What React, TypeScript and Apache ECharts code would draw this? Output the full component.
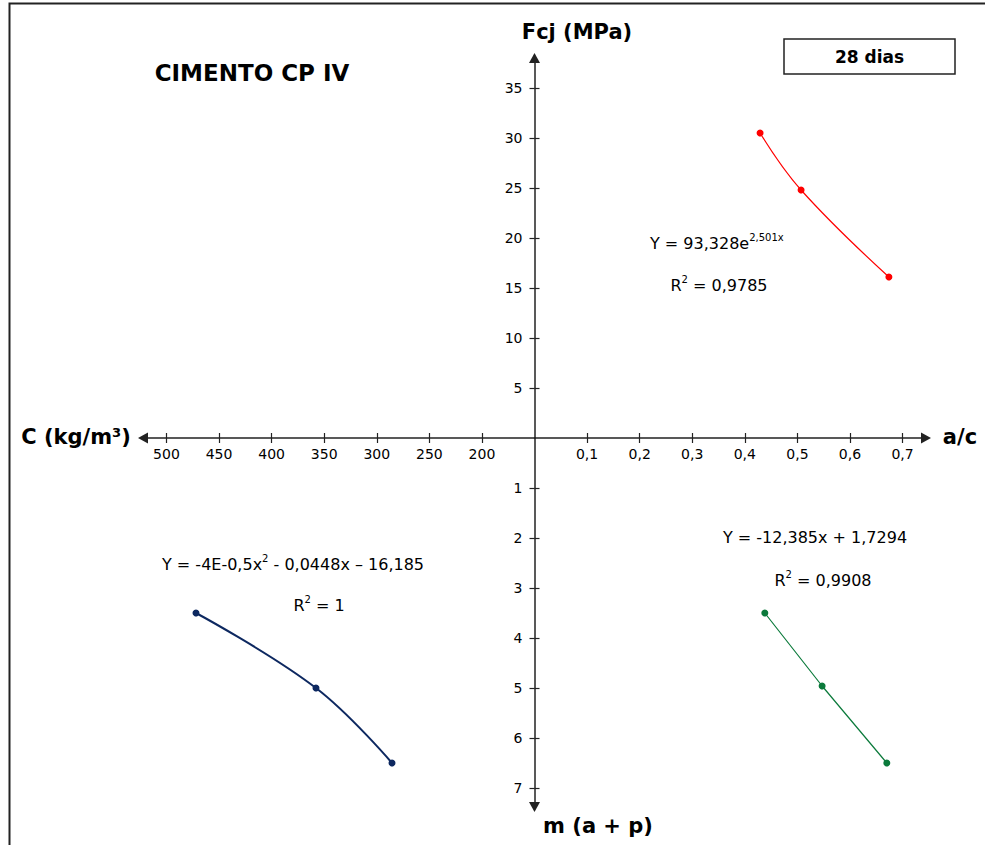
import React, { useEffect, useRef } from "react";
import * as echarts from "echarts";

// ---- data ----
const acTicks = [0.1, 0.2, 0.3, 0.4, 0.5, 0.6, 0.7];
const cTicks = [200, 250, 300, 350, 400, 450, 500];
const fcjTicks = [5, 10, 15, 20, 25, 30, 35];
const mTicks = [1, 2, 3, 4, 5, 6, 7];

const acRed = [0.429, 0.507, 0.674];
const fcjRed = [30.5, 24.8, 16.1];

const acGreen = [0.438, 0.547, 0.67];
const mGreen = [3.5, 4.96, 6.5];

const cBlue = [471.9, 357.8, 285.5];
const mBlue = [3.5, 5.0, 6.5];

const FONT = "DejaVu Sans";
const AXIS = "#222";

export default function App() {
  const ref = useRef<HTMLDivElement>(null);
  useEffect(() => {
    if (!ref.current) return;
    const chart = echarts.init(ref.current, undefined, { renderer: "svg" });
    const cx = 534.5;
    const cy = 438;
    const W = 391.5;
    const HU = 380;
    const HD = 369;
    const acMax = W / 525.8;
    const cMin = 150;
    const cMax = 150 + W / 1.0516;
    const fcjMax = HU / 10;
    const mMax = HD / 50;

    const lbl = { fontFamily: FONT, fontSize: 14, color: "#000" };
    const lineStyle = { color: AXIS, width: 1.5 };
    const tick = (vals: number[]) => ({
      show: true,
      length: 5,
      customValues: vals,
      lineStyle: { color: AXIS, width: 1.2 },
    });
    const noLabel = { show: false };

    const eqRich = {
      n: { fontFamily: FONT, fontSize: 16, color: "#000", lineHeight: 22 },
      s: { fontFamily: FONT, fontSize: 10, color: "#000", lineHeight: 12, verticalAlign: "top" },
    };
    const bold = (text: string, x: number, y: number, size: number) => ({
      type: "text",
      x,
      y,
      style: { text, fontFamily: FONT, fontWeight: "bold", fontSize: size, fill: "#000", align: "center", verticalAlign: "middle" },
    });
    const rich = (text: string, x: number, y: number, align = "center") => ({
      type: "text",
      x,
      y,
      style: { text, rich: eqRich, align, verticalAlign: "middle" },
    });

    chart.setOption({
      animation: false,
      backgroundColor: "#fff",
      grid: [
        { left: cx, top: cy - HU, width: W, height: HU },
        { left: cx - W, top: cy - HU, width: W, height: HU },
        { left: cx - W, top: cy, width: W, height: HD },
        { left: cx, top: cy, width: W, height: HD },
      ],
      xAxis: [
        {
          type: "value", gridIndex: 0, position: "bottom", min: 0, max: acMax,
          axisLine: { show: true, onZero: false, lineStyle, symbol: ["none", "triangle"], symbolSize: [11, 10] },
          axisTick: tick(acTicks),
          axisLabel: { ...lbl, margin: 9, customValues: acTicks, formatter: (v: number) => v.toFixed(1).replace(".", ",") },
          splitLine: { show: false },
        },
        {
          type: "value", gridIndex: 3, position: "top", min: 0, max: acMax,
          axisLine: { show: false, onZero: false },
          axisTick: tick(acTicks),
          axisLabel: noLabel,
          splitLine: { show: false },
        },
        {
          type: "value", gridIndex: 1, position: "bottom", min: cMin, max: cMax, inverse: true,
          axisLine: { show: true, onZero: false, lineStyle, symbol: ["triangle", "none"], symbolSize: [11, 10] },
          axisTick: tick(cTicks),
          axisLabel: { ...lbl, margin: 9, customValues: cTicks, formatter: (v: number) => String(v) },
          splitLine: { show: false },
        },
        {
          type: "value", gridIndex: 2, position: "top", min: cMin, max: cMax, inverse: true,
          axisLine: { show: false, onZero: false },
          axisTick: tick(cTicks),
          axisLabel: noLabel,
          splitLine: { show: false },
        },
      ],
      yAxis: [
        {
          type: "value", gridIndex: 0, position: "left", min: 0, max: fcjMax,
          axisLine: { show: true, onZero: false, lineStyle, symbol: ["none", "triangle"], symbolSize: [11, 10] },
          axisTick: tick(fcjTicks),
          axisLabel: { ...lbl, margin: 12, customValues: fcjTicks, formatter: (v: number) => String(v) },
          splitLine: { show: false },
        },
        {
          type: "value", gridIndex: 1, position: "right", min: 0, max: fcjMax,
          axisLine: { show: false, onZero: false },
          axisTick: tick(fcjTicks),
          axisLabel: noLabel,
          splitLine: { show: false },
        },
        {
          type: "value", gridIndex: 3, position: "left", min: 0, max: mMax, inverse: true,
          axisLine: { show: true, onZero: false, lineStyle, symbol: ["triangle", "none"], symbolSize: [11, 10] },
          axisTick: tick(mTicks),
          axisLabel: { ...lbl, margin: 12, customValues: mTicks, formatter: (v: number) => String(v) },
          splitLine: { show: false },
        },
        {
          type: "value", gridIndex: 2, position: "right", min: 0, max: mMax, inverse: true,
          axisLine: { show: false, onZero: false },
          axisTick: tick(mTicks),
          axisLabel: noLabel,
          splitLine: { show: false },
        },
      ],
      series: [
        {
          type: "line", xAxisIndex: 0, yAxisIndex: 0, smooth: 0.4,
          data: acRed.map((v, i) => [v, fcjRed[i]]),
          symbol: "circle", symbolSize: 7,
          itemStyle: { color: "#ff0000" }, lineStyle: { color: "#ff0000", width: 1.2 },
        },
        {
          type: "line", xAxisIndex: 1, yAxisIndex: 2,
          data: acGreen.map((v, i) => [v, mGreen[i]]),
          symbol: "circle", symbolSize: 7,
          itemStyle: { color: "#0b7a3b" }, lineStyle: { color: "#0b7a3b", width: 1.2 },
        },
        {
          type: "line", xAxisIndex: 3, yAxisIndex: 3, smooth: 0.4,
          data: cBlue.map((v, i) => [v, mBlue[i]]),
          symbol: "circle", symbolSize: 7,
          itemStyle: { color: "#0d2860" }, lineStyle: { color: "#0d2860", width: 2 },
        },
      ],
      graphic: [
        { type: "rect", shape: { x: 9.5, y: 3.5, width: 1100, height: 1000 }, style: { fill: "none", stroke: "#222", lineWidth: 2 } },
        { type: "rect", shape: { x: 784, y: 39, width: 171, height: 35 }, style: { fill: "#fff", stroke: "#222", lineWidth: 1.5 } },
        bold("28 dias", 869.5, 56.5, 17),
        bold("CIMENTO CP IV", 252, 73, 23),
        bold("Fcj (MPa)", 577, 32, 21),
        bold("a/c", 960, 437, 21),
        bold("C (kg/m³)", 76, 437, 21),
        bold("m (a + p)", 598, 826, 21),
        rich("{n|Y = 93,328e}{s|2,501x}", 650, 243, "left"),
        rich("{n|R}{s|2}{n| = 0,9785}", 719, 285),
        rich("{n|Y = -12,385x + 1,7294}", 815, 537),
        rich("{n|R}{s|2}{n| = 0,9908}", 823, 580),
        rich("{n|Y = -4E-0,5x}{s|2}{n| - 0,0448x – 16,185}", 293, 564),
        rich("{n|R}{s|2}{n| = 1}", 319, 605),
      ],
    });
    return () => chart.dispose();
  }, []);
  return (
    <div
      ref={ref}
      style={{ position: "fixed", left: 0, top: 0, width: 985, height: 845, background: "#fff" }}
    />
  );
}
